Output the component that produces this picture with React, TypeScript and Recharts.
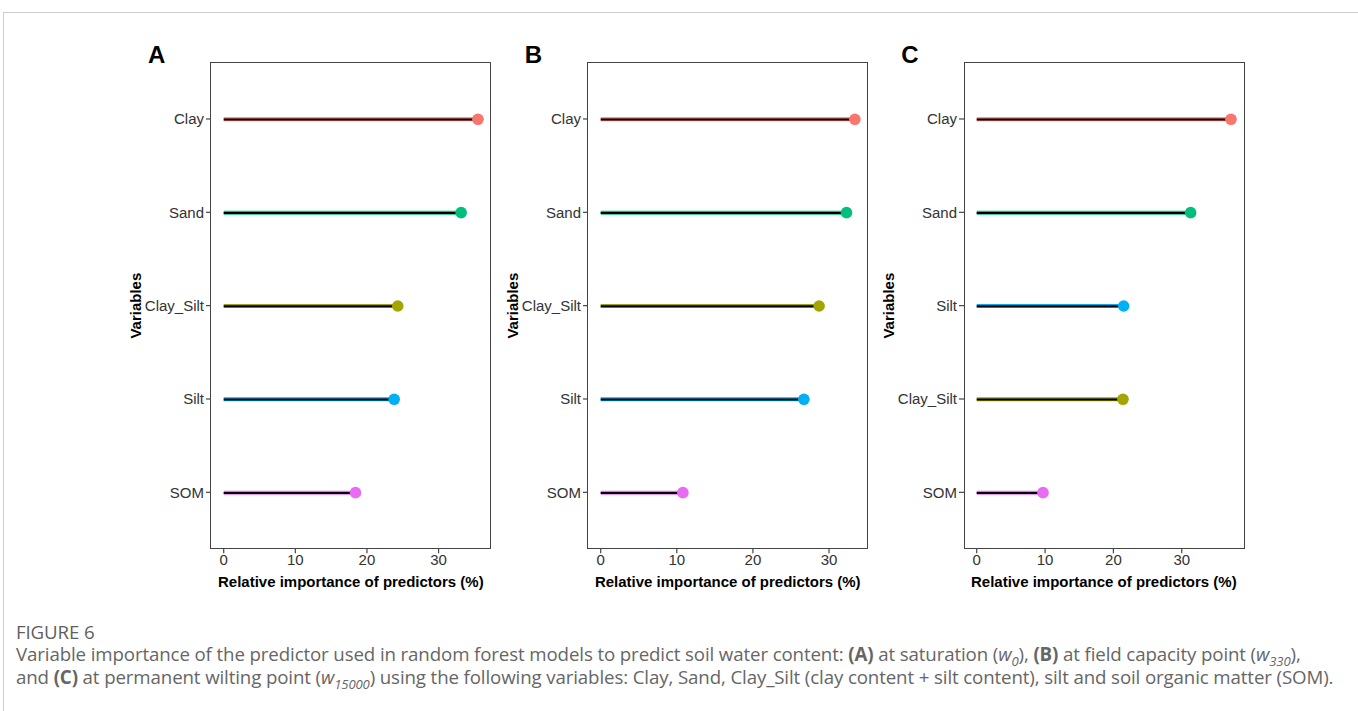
import React from 'react';
import { BarChart, Bar, XAxis, YAxis } from 'recharts';

// variable importance (%) per model
const namesA = ['Clay', 'Sand', 'Clay_Silt', 'Silt', 'SOM'];
const valuesA = [35.5, 33.15, 24.3, 23.8, 18.4];

const namesB = ['Clay', 'Sand', 'Clay_Silt', 'Silt', 'SOM'];
const valuesB = [33.4, 32.3, 28.7, 26.7, 10.8];

const namesC = ['Clay', 'Sand', 'Silt', 'Clay_Silt', 'SOM'];
const valuesC = [37.2, 31.3, 21.5, 21.4, 9.7];

const xTicks = [0, 10, 20, 30];

const colors: Record<string, string> = {
  Clay: '#F8766D',
  Sand: '#00BF7D',
  Clay_Silt: '#A3A500',
  Silt: '#00B0F6',
  SOM: '#E76BF3',
};

const FONT = '"Liberation Sans", Arial, sans-serif';
const Y_AXIS_W = 150;
const PLOT_TOP = 62.7;
const PLOT_H = 485.3;
const M_TOP = 10;
const X_AXIS_H = 40;
const FRAME = '#444';

const Lollipop = (props: any) => {
  const { x, y, width, height, payload } = props;
  const cy = y + height / 2;
  const c = colors[payload.name];
  return (
    <g>
      <line x1={x} x2={x + width} y1={cy} y2={cy} stroke={c} strokeWidth={4} />
      <line x1={x} x2={x + width} y1={cy + 0.3} y2={cy + 0.3} stroke="#000" strokeWidth={2} />
      <circle cx={x + width} cy={cy} r={5.8} fill={c} />
    </g>
  );
};

interface PanelProps {
  letter: string;
  names: string[];
  values: number[];
  plotLeft: number;
  plotRight: number;
}

const Panel = ({ letter, names, values, plotLeft, plotRight }: PanelProps) => {
  const data = names.map((name, i) => ({ name, value: values[i] }));
  const max = Math.max(...values);
  const domain = [-0.05 * max, max * 1.05];
  const plotW = plotRight - plotLeft;
  const w = Y_AXIS_W + plotW + 5;
  const h = M_TOP + PLOT_H + X_AXIS_H + 5;
  const tickStyle = { fontFamily: FONT, fontSize: 15, fill: '#333' };
  return (
    <>
      <div
        style={{
          position: 'absolute',
          left: plotLeft - 63,
          top: 41,
          fontFamily: FONT,
          fontWeight: 'bold',
          fontSize: 24,
          color: '#000',
        }}
      >
        {letter}
      </div>
      <div style={{ position: 'absolute', left: plotLeft - Y_AXIS_W, top: PLOT_TOP - M_TOP }}>
        <BarChart
          width={w}
          height={h}
          data={data}
          layout="vertical"
          margin={{ top: M_TOP, right: 5, bottom: 5, left: 0 }}
        >
          <XAxis
            type="number"
            dataKey="value"
            domain={domain}
            ticks={xTicks}
            allowDataOverflow
            tick={tickStyle}
            tickSize={5}
            tickMargin={1}
            height={X_AXIS_H}
            axisLine={false}
            tickLine={{ stroke: FRAME, strokeWidth: 1.2 }}
            label={{
              value: 'Relative importance of predictors (%)',
              position: 'insideBottom',
              offset: 1,
              style: { fontFamily: FONT, fontWeight: 'bold', fontSize: 15, fill: '#000' },
            }}
          />
          <YAxis
            type="category"
            dataKey="name"
            width={Y_AXIS_W}
            padding={{ top: 9.3, bottom: 9.3 }}
            tick={tickStyle}
            tickSize={5}
            tickMargin={2}
            axisLine={false}
            tickLine={{ stroke: FRAME, strokeWidth: 1.2 }}
            label={{
              value: 'Variables',
              angle: -90,
              position: 'center',
              style: { fontFamily: FONT, fontWeight: 'bold', fontSize: 15, fill: '#000' },
            }}
          />
          <Bar dataKey="value" barSize={10} shape={Lollipop} isAnimationActive={false} />
        </BarChart>
      </div>
      <div
        style={{
          position: 'absolute',
          left: plotLeft - 0.65,
          top: PLOT_TOP - 0.65,
          width: plotW + 1.3,
          height: PLOT_H + 1.3,
          boxSizing: 'border-box',
          border: `1.3px solid ${FRAME}`,
          pointerEvents: 'none',
        }}
      />
    </>
  );
};

const capStyle: React.CSSProperties = {
  position: 'absolute',
  left: 16,
  fontFamily: '"Open Sans", "Noto Sans", sans-serif',
  fontSize: 18.7,
  lineHeight: '22px',
  color: '#666',
  whiteSpace: 'nowrap',
  letterSpacing: -0.12,
};

const W = (sub: string) => (
  <i>
    w<sub style={{ fontSize: '0.7em', lineHeight: 0 }}>{sub}</sub>
  </i>
);

export default function App() {
  return (
    <div
      style={{
        position: 'absolute',
        left: 0,
        top: 0,
        width: 1358,
        height: 711,
        background: '#fff',
        overflow: 'hidden',
      }}
    >
      <div
        style={{
          position: 'absolute',
          left: 3,
          top: 12,
          width: 1400,
          height: 720,
          borderTop: '1px solid #cfcfcf',
          borderLeft: '1px solid #cfcfcf',
        }}
      />
      <Panel letter="A" names={namesA} values={valuesA} plotLeft={211} plotRight={490.7} />
      <Panel letter="B" names={namesB} values={valuesB} plotLeft={587.7} plotRight={867.3} />
      <Panel letter="C" names={namesC} values={valuesC} plotLeft={964.3} plotRight={1244} />
      <div style={{ ...capStyle, top: 621, fontWeight: 500, color: '#5f5f5f' }}>FIGURE 6</div>
      <div style={{ ...capStyle, top: 643 }}>
        Variable importance of the predictor used in random forest models to predict soil water content:{' '}
        <b>(A)</b> at saturation ({W('0')}), <b>(B)</b> at field capacity point ({W('330')}),
      </div>
      <div style={{ ...capStyle, top: 666 }}>
        and <b>(C)</b> at permanent wilting point ({W('15000')}) using the following variables: Clay, Sand,
        Clay_Silt (clay content + silt content), silt and soil organic matter (SOM).
      </div>
    </div>
  );
}
